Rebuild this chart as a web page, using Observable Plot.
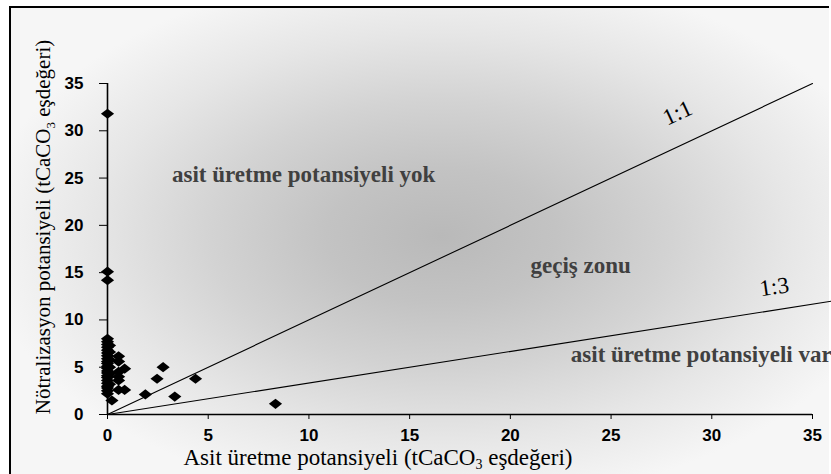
<!DOCTYPE html>
<html>
<head>
<meta charset="utf-8">
<script src="https://cdn.jsdelivr.net/npm/d3@7"></script>
<script src="https://cdn.jsdelivr.net/npm/@observablehq/plot@0.6"></script>
<style>
  html, body { margin: 0; padding: 0; background: #fff; }
  #wrap { position: relative; width: 831px; height: 474px; overflow: hidden; }
  #bg {
    position: absolute; left: 9px; top: 6px; width: 818px; height: 470px;
    border-left: 2px solid #000; border-top: 2px solid #000;
    background: radial-gradient(ellipse 460px 270px at 430px 228px,
      #b9b9b9 0%, #c3c3c3 25%, #d3d3d3 50%, #e6e6e6 75%, #f6f6f6 100%);
  }
  #chart { position: absolute; left: 0; top: 0; }
</style>
</head>
<body>
<div id="wrap"><div id="bg"></div><div id="chart"></div></div>
<script>
// Asit üretme potansiyeli (x) and Nötralizasyon potansiyeli (y), tCaCO3 eşdeğeri
const apValues = [
  0,0,0,0,0,0,0,0,0,0,0,0,0,0,0,0,0,0,0,0,0,0,0,0,0,
  0.1,0.1,0.1,0.1,0.1,0.1,
  0.22,
  0.55,0.55,0.55,0.55,0.55,0.55,
  0.85,0.85,
  1.88,2.46,2.76,3.34,4.37,8.34
];
const npValues = [
  2.2,2.5,2.8,3.0,3.3,3.6,3.9,4.1,4.4,4.6,4.9,5.1,5.4,5.6,5.9,6.2,6.5,6.8,7.1,7.4,7.7,8.0,14.2,15.1,31.8,
  3.2,4.3,5.0,5.8,6.6,7.3,
  1.48,
  6.15,5.6,4.5,4.0,3.6,2.6,
  4.85,2.6,
  2.12,3.78,5.0,1.9,3.78,1.13
];
const axisTicks = [0, 5, 10, 15, 20, 25, 30, 35];
const line11 = [[0, 0], [35, 35]];
const line13 = [[0, 0], [36, 12]];
const zoneLabels = ["asit üretme potansiyeli yok", "geçiş zonu", "asit üretme potansiyeli var"];
const zoneX = [3.2, 21.0, 23.0];
const zoneY = [24.6, 15.0, 5.5];
const ratioLabels = ["1:1", "1:3"];
const ratioX = [28.3, 33.1];
const ratioY = [31.9, 13.5];

const points = apValues.map((x, i) => ({x, y: npValues[i]}));
const zones = zoneLabels.map((t, i) => ({t, x: zoneX[i], y: zoneY[i]}));

const wideDiamond = {
  draw(ctx, size) {
    const w = Math.sqrt(size) * 0.62, h = Math.sqrt(size) * 0.48;
    ctx.moveTo(0, -h); ctx.lineTo(w, 0); ctx.lineTo(0, h); ctx.lineTo(-w, 0); ctx.closePath();
  }
};

const tickFont = "'Liberation Sans Narrow', 'Arial Narrow', 'Liberation Sans', Arial, sans-serif";
const serif = "'Liberation Serif', 'Times New Roman', serif";

const plot = Plot.plot({
  width: 831, height: 474,
  marginLeft: 107, marginRight: 19, marginTop: 83, marginBottom: 60,
  style: {background: "none", overflow: "visible"},
  x: {domain: [0, 35]},
  y: {domain: [0, 35]},
  marks: [
    Plot.line(line11, {x: d => d[0], y: d => d[1], stroke: "#000", strokeWidth: 1.1}),
    Plot.line(line13, {x: d => d[0], y: d => d[1], stroke: "#000", strokeWidth: 1.1}),
    Plot.ruleY([0], {stroke: "#000", strokeWidth: 1.6}),
    Plot.ruleX([0], {stroke: "#000", strokeWidth: 1.6}),
    Plot.axisX({ticks: axisTicks, tickSize: 5, tickPadding: 9, label: null,
      fontSize: 17, fontWeight: "bold", fontFamily: tickFont, stroke: "#000"}),
    Plot.axisY({ticks: axisTicks, tickSize: 8, tickPadding: 16, label: null,
      fontSize: 17, fontWeight: "bold", fontFamily: tickFont, stroke: "#000"}),
    Plot.dot(points, {x: "x", y: "y", symbol: wideDiamond, r: 6, fill: "#000", stroke: "none"}),
    Plot.text(zones, {x: "x", y: "y", text: "t", textAnchor: "start", lineAnchor: "bottom",
      fontSize: 23, fontWeight: "bold", fontFamily: serif, fill: "#404040"}),
    Plot.text([0], {x: ratioX[0], y: ratioY[0], text: [ratioLabels[0]], rotate: -25,
      fontSize: 23, fontFamily: serif, fill: "#000"}),
    Plot.text([0], {x: ratioX[1], y: ratioY[1], text: [ratioLabels[1]], rotate: -8,
      fontSize: 23, fontFamily: serif, fill: "#000"})
  ]
});
document.getElementById("chart").appendChild(plot);

// Axis titles with subscript
const svg = d3.select(plot);
const xt = svg.append("text")
  .attr("x", 378).attr("y", 465)
  .attr("text-anchor", "middle")
  .attr("font-family", serif).attr("font-size", 23).attr("fill", "#000");
xt.append("tspan").text("Asit üretme potansiyeli (tCaCO");
xt.append("tspan").attr("font-size", 14).attr("dy", 4).text("3");
xt.append("tspan").attr("dy", -4).text(" eşdeğeri)");

const yt = svg.append("text")
  .attr("transform", "translate(50,227) rotate(-90)")
  .attr("text-anchor", "middle")
  .attr("font-family", serif).attr("font-size", 21).attr("fill", "#000");
yt.append("tspan").text("Nötralizasyon potansiyeli (tCaCO");
yt.append("tspan").attr("font-size", 13).attr("dy", 5).text("3");
yt.append("tspan").attr("dy", -5).text(" eşdeğeri)");
</script>
</body>
</html>
